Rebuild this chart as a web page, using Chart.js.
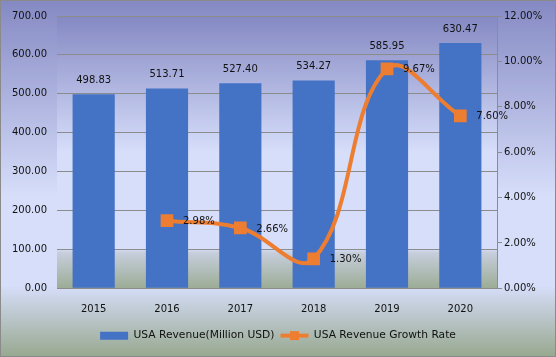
<!DOCTYPE html>
<html><head><meta charset="utf-8">
<script src="https://cdn.jsdelivr.net/npm/chart.js@4/dist/chart.umd.min.js"></script>
<style>html,body{margin:0;padding:0;background:#fff}#wrap{width:556px;height:357px;position:relative}</style>
</head><body><div id="wrap"><canvas id="c" width="556" height="357"></canvas></div>
<script>
const categories = ['2015', '2016', '2017', '2018', '2019', '2020'];
const revenue = [498.83, 513.71, 527.40, 534.27, 585.95, 630.47];
const growthRate = [null, 2.98, 2.66, 1.30, 9.67, 7.60];
const seriesNames = ['USA Revenue(Million USD)', 'USA Revenue Growth Rate'];
const leftAxis = { min: 0, max: 700, step: 100 };
const rightAxis = { min: 0, max: 12, step: 2 };

const BLUE = '#4472C4', ORANGE = '#ED7D31', GRID = '#8c8c8c', TXT = '#111111';
const FONT = 'DejaVu Sans';

const bgPlugin = {
  id: 'bg',
  beforeDraw(chart) {
    const ctx = chart.ctx, W = chart.width, H = chart.height;
    ctx.save();
    let g = ctx.createLinearGradient(0, 0, 0, H);
    g.addColorStop(0, '#8589c3');
    g.addColorStop(0.55, '#d6defa');
    g.addColorStop(0.80, '#d6defa');
    g.addColorStop(1, '#97a88f');
    ctx.fillStyle = g;
    ctx.fillRect(0, 0, W, H);
    const a = chart.chartArea;
    g = ctx.createLinearGradient(0, a.top, 0, a.bottom);
    g.addColorStop(0, '#8589c3');
    g.addColorStop(0.5, '#d6defa');
    g.addColorStop(0.855, '#d6defa');
    g.addColorStop(0.87, '#c6cedc');
    g.addColorStop(1, '#9cac95');
    ctx.fillStyle = g;
    ctx.fillRect(a.left, a.top, a.right - a.left, a.bottom - a.top);
    ctx.restore();
  },
  afterDraw(chart) {
    const ctx = chart.ctx;
    ctx.save();
    ctx.strokeStyle = '#8a8a8a';
    ctx.lineWidth = 1;
    ctx.strokeRect(0.5, 0.5, chart.width - 1, chart.height - 1);
    const hb = chart.legend && chart.legend.legendHitBoxes && chart.legend.legendHitBoxes[1];
    if (hb) {
      const cy = hb.top + hb.height / 2;
      const bw = chart.options.plugins.legend.labels.boxWidth;
      ctx.strokeStyle = ORANGE;
      ctx.lineWidth = 4;
      ctx.beginPath();
      ctx.moveTo(hb.left, cy);
      ctx.lineTo(hb.left + bw, cy);
      ctx.stroke();
      ctx.fillStyle = ORANGE;
      ctx.fillRect(hb.left + bw / 2 - 4.5, cy - 4.5, 9, 9);
    }
    ctx.restore();
  }
};

const labelPlugin = {
  id: 'labels',
  afterDatasetsDraw(chart) {
    const ctx = chart.ctx;
    ctx.save();
    ctx.font = '10px "' + FONT + '"';
    ctx.fillStyle = TXT;
    const m0 = chart.getDatasetMeta(0);
    ctx.textAlign = 'center';
    ctx.textBaseline = 'bottom';
    m0.data.forEach((bar, i) => {
      ctx.fillText(revenue[i].toFixed(2), bar.x, bar.y - 9);
    });
    const m1 = chart.getDatasetMeta(1);
    ctx.textAlign = 'left';
    ctx.textBaseline = 'middle';
    m1.data.forEach((pt, i) => {
      if (growthRate[i] == null) return;
      ctx.fillText(growthRate[i].toFixed(2) + '%', pt.x + 16, pt.y + 1);
    });
    ctx.restore();
  }
};

new Chart(document.getElementById('c'), {
  data: {
    labels: categories,
    datasets: [
      {
        type: 'bar', label: seriesNames[0], data: revenue, yAxisID: 'y',
        backgroundColor: BLUE, borderWidth: 0, order: 2,
        barPercentage: 0.575, categoryPercentage: 1
      },
      {
        type: 'line', label: seriesNames[1], data: growthRate, yAxisID: 'y1',
        borderColor: ORANGE, backgroundColor: ORANGE, borderWidth: 4,
        pointStyle: 'rect', pointRadius: 9, pointBackgroundColor: ORANGE,
        pointBorderColor: ORANGE, pointBorderWidth: 0, tension: 0.4, order: 1,
        fill: false
      }
    ]
  },
  options: {
    responsive: false, animation: false,
    layout: { padding: { top: 15, bottom: 6, left: 0, right: 0 } },
    plugins: {
      tooltip: { enabled: false },
      legend: {
        position: 'bottom',
        labels: {
          font: { family: FONT, size: 10.7 }, color: TXT,
          boxWidth: 28, boxHeight: 8, padding: 6,
          sort: (a, b) => a.datasetIndex - b.datasetIndex,
          generateLabels(chart) {
            const items = Chart.defaults.plugins.legend.labels.generateLabels(chart);
            items.forEach(it => {
              if (it.datasetIndex === 1) {
                it.fillStyle = 'rgba(0,0,0,0)';
                it.strokeStyle = 'rgba(0,0,0,0)';
                it.lineWidth = 0;
              } else {
                it.fillStyle = BLUE; it.strokeStyle = BLUE; it.lineWidth = 0;
              }
            });
            return items;
          }
        }
      }
    },
    scales: {
      x: {
        grid: { display: false },
        border: { display: true, color: GRID, width: 1 },
        ticks: { font: { family: FONT, size: 10 }, color: TXT, padding: 7 },
        afterFit(s) { s.height = 36; }
      },
      y: {
        position: 'left', min: leftAxis.min, max: leftAxis.max,
        grid: { color: GRID, drawTicks: false, lineWidth: 1 },
        border: { display: false },
        ticks: { stepSize: leftAxis.step, font: { family: FONT, size: 10 }, color: TXT, padding: 10,
          callback: v => Number(v).toFixed(2) },
        afterFit(s) { s.width = 57; }
      },
      y1: {
        position: 'right', min: rightAxis.min, max: rightAxis.max,
        grid: { drawOnChartArea: false, drawTicks: true, tickLength: 5, color: GRID },
        border: { display: true, color: GRID, width: 1 },
        ticks: { stepSize: rightAxis.step, font: { family: FONT, size: 10 }, color: TXT, padding: 2,
          callback: v => Number(v).toFixed(2) + '%' },
        afterFit(s) { s.width = 59; }
      }
    }
  },
  plugins: [bgPlugin, labelPlugin]
});
</script>
</body></html>
